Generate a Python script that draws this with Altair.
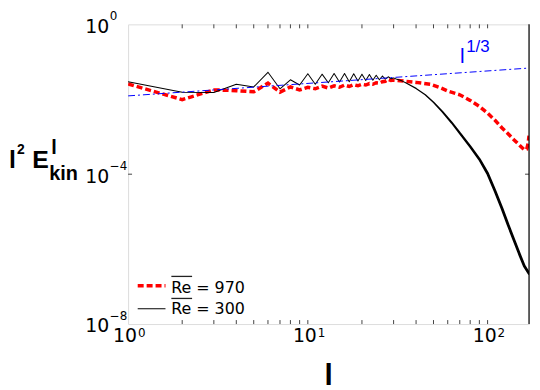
import altair as alt
import pandas as pd

# ---- data (log10 of l^2 E_kin^l) ----
l_black_low = list(range(1, 36))
black_low_log = [-1.53, -1.81, -1.82, -1.60, -1.67, -1.28, -1.72, -1.48, -1.62, -1.32,
                 -1.60, -1.33, -1.56, -1.31, -1.54, -1.31, -1.53, -1.32, -1.51, -1.33,
                 -1.50, -1.34, -1.49, -1.36, -1.48, -1.38, -1.46, -1.40, -1.45, -1.43,
                 -1.46, -1.48, -1.50, -1.53, -1.56]
l_black_high = [40, 45, 50, 56, 63, 70, 80, 90, 100, 110, 120, 130, 140, 150, 160, 170]
black_high_log = [-1.71, -1.88, -2.08, -2.33, -2.62, -2.90, -3.26, -3.60, -3.98, -4.45,
                  -4.90, -5.35, -5.75, -6.12, -6.45, -6.65]

l_red_low = list(range(1, 31))
red_low_log = [-1.59, -2.01, -1.75, -1.77, -1.80, -1.57, -1.81, -1.67, -1.75, -1.68,
               -1.72, -1.65, -1.70, -1.64, -1.68, -1.62, -1.66, -1.61, -1.64, -1.60,
               -1.62, -1.58, -1.60, -1.56, -1.57, -1.53, -1.52, -1.47, -1.50, -1.49]
l_red_high = [35, 40, 48, 55, 60, 70, 80, 90, 100, 110, 120, 130, 140, 150, 160, 165, 168, 170]
red_high_log = [-1.52, -1.55, -1.60, -1.70, -1.78, -1.88, -2.03, -2.19, -2.37, -2.56,
                -2.76, -2.92, -3.08, -3.22, -3.35, -3.33, -3.18, -2.97]

l_blue = [1, 170]
blue_log = [-1.91, -1.167]

x_minor_ticks = [2, 3, 4, 5, 6, 7, 8, 9, 20, 30, 40, 50, 60, 70, 80, 90, 10, 100]
y_ticks = [1e-4]
x_label_vals = [1, 10, 100]
x_label_sups = ["0", "1", "2"]
y_label_vals = [1, 1e-4, 1e-8]
y_label_sups = ["0", "\u22124", "\u22128"]

W, H = 404, 302

df_black = pd.DataFrame({"l": l_black_low + l_black_high,
                         "v": [10 ** e for e in black_low_log + black_high_log]})
df_red = pd.DataFrame({"l": l_red_low + l_red_high,
                       "v": [10 ** e for e in red_low_log + red_high_log]})
df_blue = pd.DataFrame({"l": l_blue, "v": [10 ** e for e in blue_log]})
df_xt = pd.DataFrame({"l": x_minor_ticks})
df_yt = pd.DataFrame({"v": y_ticks})
df_xl = pd.DataFrame({"l": x_label_vals, "s": x_label_sups})
df_yl = pd.DataFrame({"v": y_label_vals, "s": y_label_sups})
one = pd.DataFrame({"k": [0]})

xs = alt.Scale(type="log", domain=[1, 170], nice=False)
ys = alt.Scale(type="log", domain=[1e-8, 1], nice=False)
X = alt.X("l:Q", scale=xs, axis=None)
Y = alt.Y("v:Q", scale=ys, axis=None)

red = alt.Chart(df_red).mark_line(color="#ff0000", strokeWidth=3.5, strokeDash=[6, 3], clip=True).encode(X, Y)
black = alt.Chart(df_black).transform_calculate(
    w="clamp(1 + 1.8*(log(datum.l)-log(35))/(log(100)-log(35)), 1, 2.8)"
).mark_trail(color="black", clip=True).encode(X, Y, size=alt.Size("w:Q", scale=None, legend=None))
blue = alt.Chart(df_blue).mark_line(color="#0000ff", strokeWidth=1, strokeDash=[7, 3, 2, 3], clip=True).encode(X, Y)

tick_col = "#444444"
xt_bot = alt.Chart(df_xt).mark_rule(color=tick_col, strokeWidth=1).encode(X, y=alt.value(H), y2=alt.value(H - 4))
xt_top = alt.Chart(df_xt).mark_rule(color=tick_col, strokeWidth=1).encode(X, y=alt.value(0), y2=alt.value(4))
yt_l = alt.Chart(df_yt).mark_rule(color=tick_col, strokeWidth=1).encode(Y, x=alt.value(0), x2=alt.value(4))
yt_r = alt.Chart(df_yt).mark_rule(color=tick_col, strokeWidth=1).encode(Y, x=alt.value(W), x2=alt.value(W - 4))
right_border = alt.Chart(one).mark_rule(color="black", strokeWidth=1.2).encode(
    x=alt.value(W), y=alt.value(0), y2=alt.value(H))

lab_font = "DejaVu Sans"
xl_base = alt.Chart(df_xl).mark_text(text="10", font=lab_font, fontSize=19, align="center",
                                     baseline="alphabetic", dx=-3, color="black").encode(X, y=alt.value(320.5))
xl_sup = alt.Chart(df_xl).mark_text(font=lab_font, fontSize=12, align="left",
                                    baseline="alphabetic", dx=10, color="black").encode(X, y=alt.value(315.5), text="s:N")
yl_base = alt.Chart(df_yl).mark_text(text="10", font=lab_font, fontSize=19, align="right",
                                     baseline="alphabetic", dy=8.5, color="black").encode(Y, x=alt.value(-19))
yl_sup = alt.Chart(df_yl).mark_text(font=lab_font, fontSize=12, align="left",
                                    baseline="alphabetic", dy=-4.5, color="black").encode(Y, x=alt.value(-18.5), text="s:N")


def txt(s, x, y, size, bold=False, color="black", font="Liberation Sans", align="left"):
    return alt.Chart(one).mark_text(text=s, fontSize=size, fontWeight="bold" if bold else "normal",
                                    font=font, color=color, align=align, baseline="alphabetic").encode(
        x=alt.value(x), y=alt.value(y))


def hrule(x1, x2, y, color="black", width=1.0, dash=None):
    kw = dict(color=color, strokeWidth=width)
    if dash:
        kw["strokeDash"] = dash
    return alt.Chart(one).mark_rule(**kw).encode(x=alt.value(x1), x2=alt.value(x2), y=alt.value(y))


# y-axis title  l^2 E^l_kin
ytitle = [
    txt("l", -120.0, 144.3, 25, bold=True),
    txt("2", -112.0, 130.3, 14, bold=True),
    txt("E", -96.5, 144.3, 25, bold=True),
    txt("l", -77.5, 130.3, 20, bold=True),
    txt("kin", -79.5, 157.3, 20, bold=True),
]
xtitle = txt("l", 202.2, 363.5, 30, bold=True, align="center")

# l^{1/3} label
blue_lab = [
    txt("l", 334.5, 39, 21, color="#0000ff"),
    txt("1/3", 340.7, 28, 17, color="#0000ff"),
]

# legend
legend = [
    hrule(9.7, 37.7, 263.3, color="#ff0000", width=3.5, dash=[6, 3]),
    txt("Re = 970", 43.4, 270.6, 16, font=lab_font),
    hrule(43.6, 64.5, 254.0, color="#222222", width=1.3),
    hrule(9.7, 37.7, 286.6, color="black", width=1),
    txt("Re = 300", 43.4, 292.3, 16, font=lab_font),
    hrule(43.6, 64.5, 276.2, color="#222222", width=1.3),
]

chart = alt.layer(
    red, black, blue,
    xt_bot, xt_top, yt_l, yt_r, right_border,
    xl_base, xl_sup, yl_base, yl_sup,
    *ytitle, xtitle, *blue_lab, *legend,
).properties(
    width=W, height=H,
    padding={"left": 121, "top": 15, "right": 3, "bottom": 65},
    autosize=alt.AutoSizeParams(type="none"),
).configure_view(stroke="#808080", strokeWidth=1).configure(background="white")

chart.save("out.html", embed_options={"renderer": "svg", "actions": False})
